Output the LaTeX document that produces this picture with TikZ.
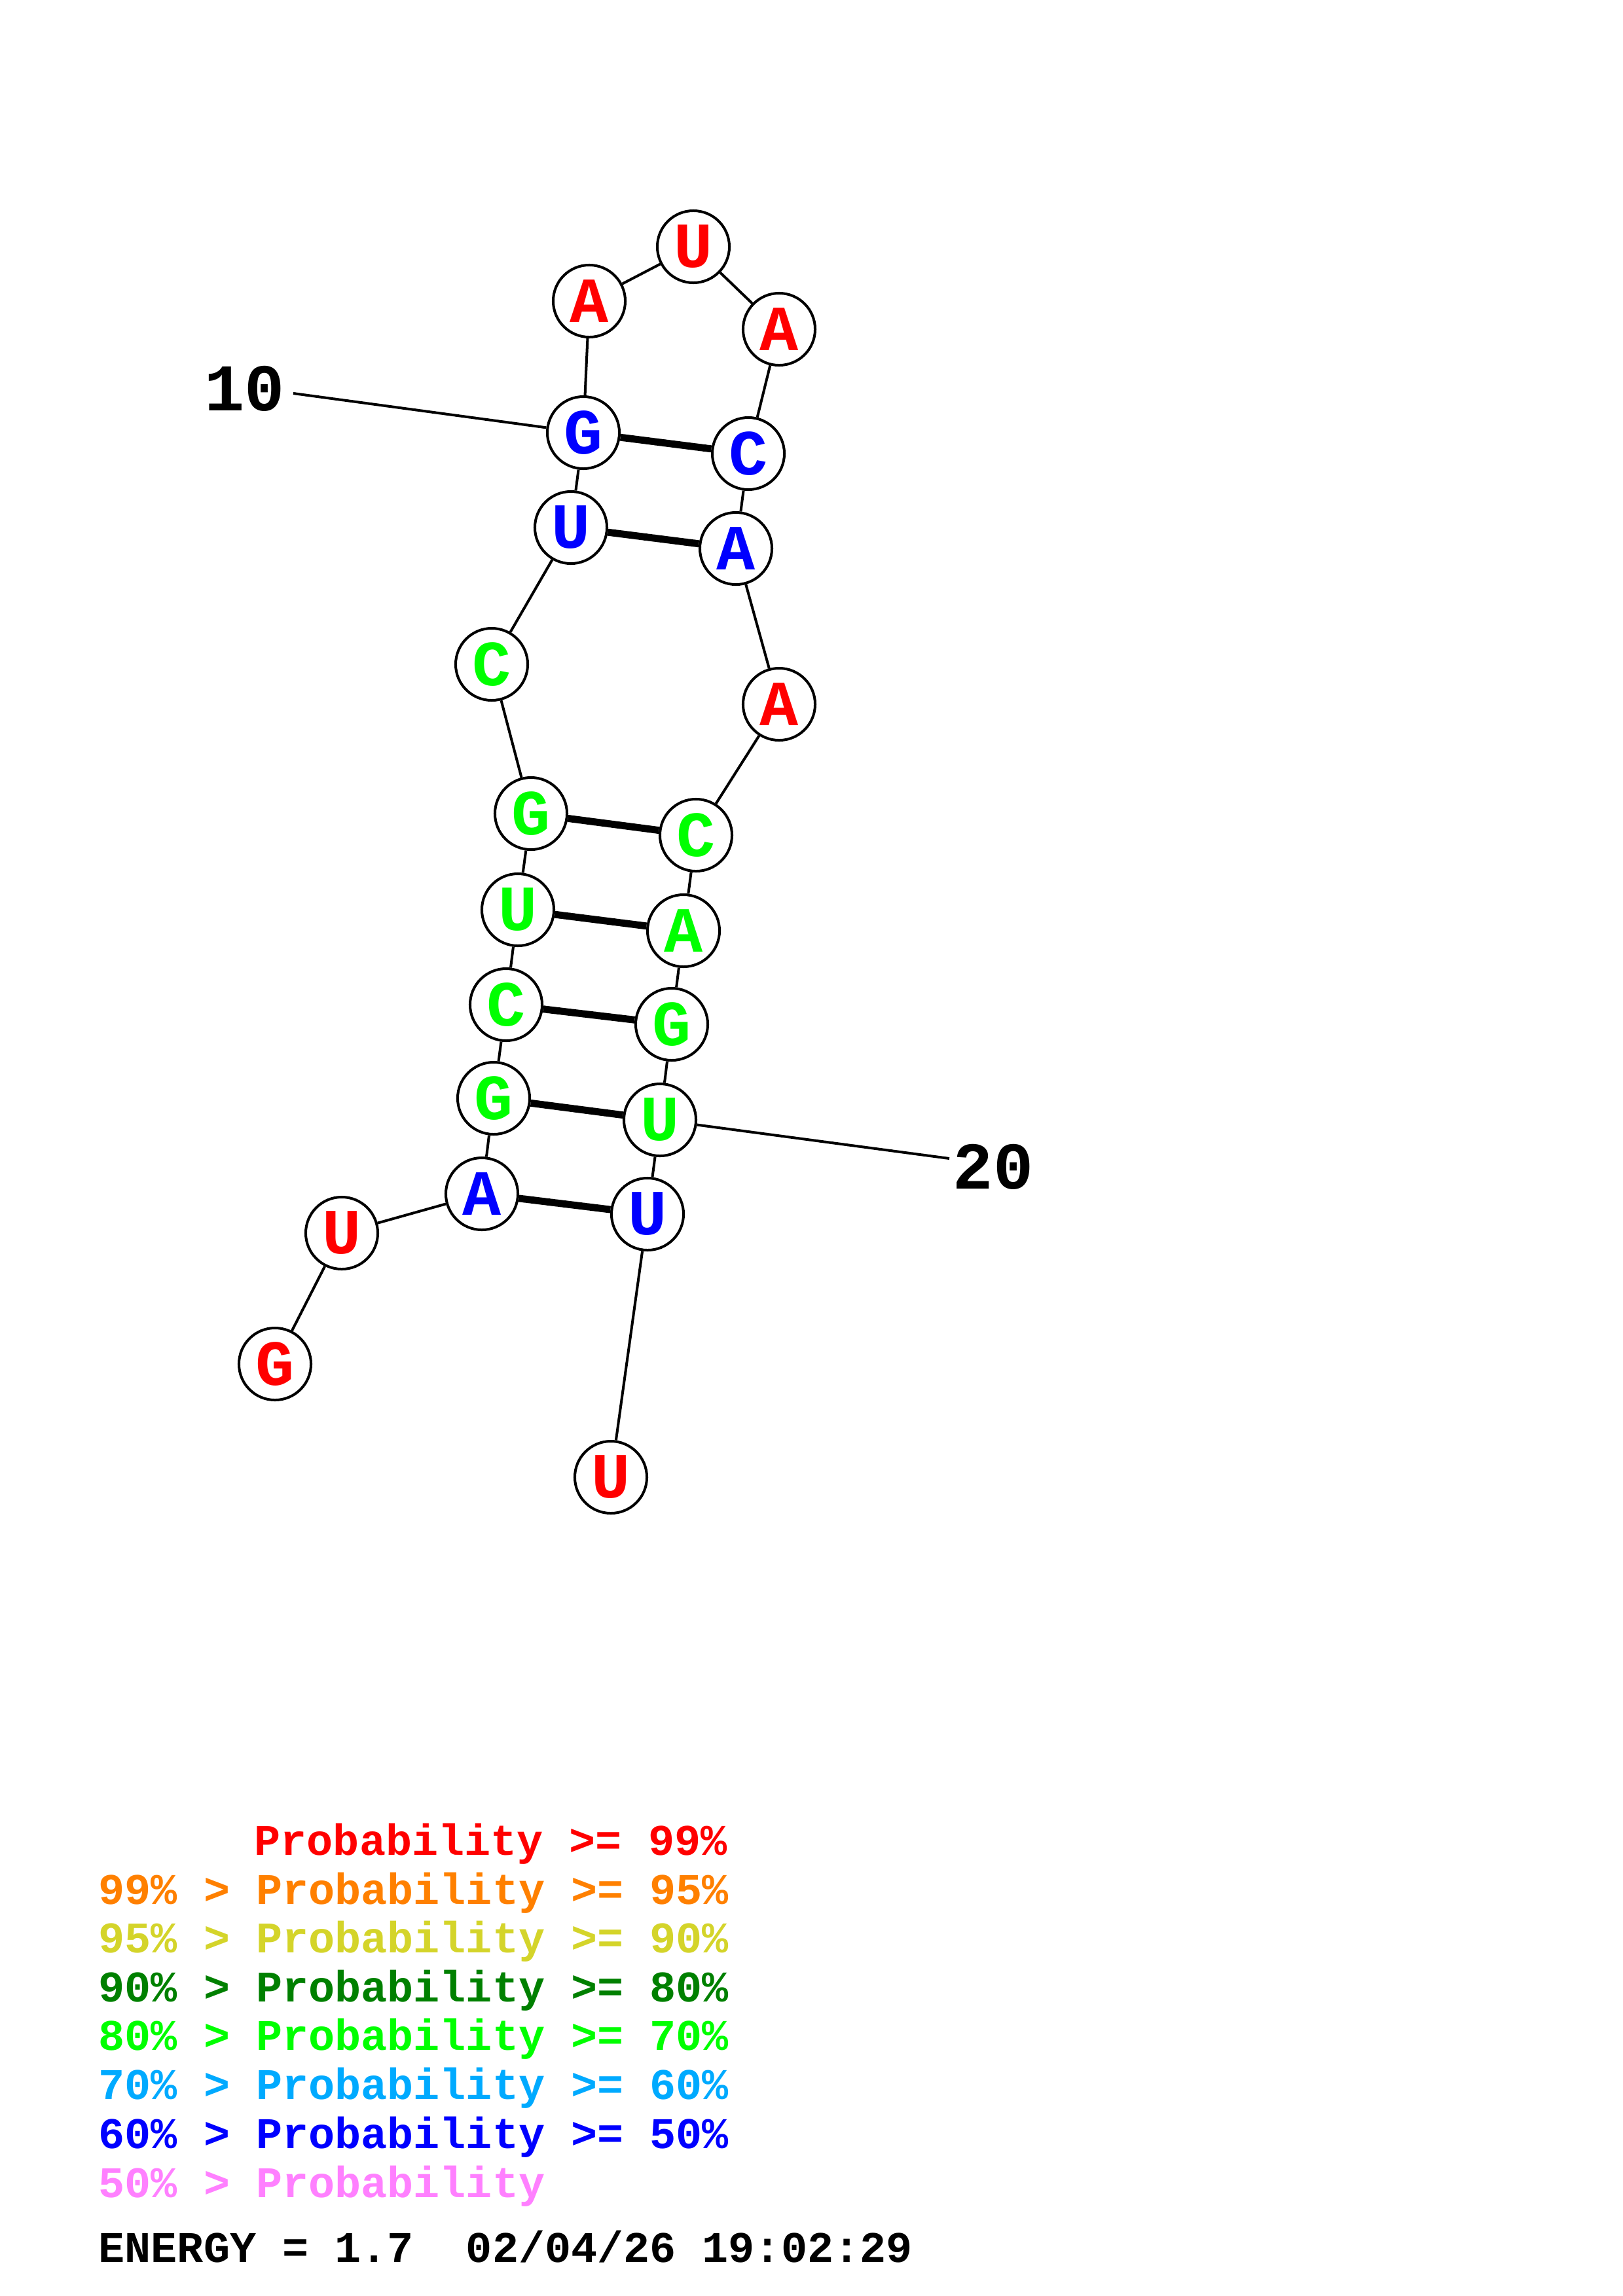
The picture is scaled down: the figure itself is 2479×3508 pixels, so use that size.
\documentclass[tikz,border=0pt]{standalone}
\usepackage{fontspec}
\newfontfamily\rnafont{Liberation Mono}
\definecolor{cred}{RGB}{255,0,0}
\definecolor{corange}{RGB}{255,128,0}
\definecolor{cyellow}{RGB}{212,212,42}
\definecolor{cdkgreen}{RGB}{0,128,0}
\definecolor{cgreen}{RGB}{0,255,0}
\definecolor{cltblue}{RGB}{0,170,255}
\definecolor{cblue}{RGB}{0,0,255}
\definecolor{cpink}{RGB}{255,128,255}
\tikzset{
  nt/.style={circle, draw=black, line width=1.14pt, fill=white, minimum size=1.1cm, inner sep=0pt,
             font=\rnafont\bfseries\fontsize{28}{28}\selectfont},
  bb/.style={line width=1.14pt},
  bp/.style={line width=3.1pt},
  numlbl/.style={inner sep=0pt, font=\rnafont\bfseries\fontsize{29}{29}\selectfont},
  leg/.style={anchor=base west, inner sep=0pt, font=\rnafont\bfseries\fontsize{19}{19}\selectfont},
}
\begin{document}
\frenchspacing
\begin{tikzpicture}[x=0.01cm, y=-0.01cm]
\path[use as bounding box, fill=white] (0,0) rectangle (2479,3508);
% nucleotides
\node[nt, text=cred]  (n1)  at (420,2084) {G};
\node[nt, text=cred]  (n2)  at (522,1884) {U};
\node[nt, text=cblue] (n3)  at (736,1824) {A};
\node[nt, text=cgreen] (n4) at (754,1678) {G};
\node[nt, text=cgreen] (n5) at (773,1535) {C};
\node[nt, text=cgreen] (n6) at (791,1390) {U};
\node[nt, text=cgreen] (n7) at (811,1243) {G};
\node[nt, text=cgreen] (n8) at (751,1015) {C};
\node[nt, text=cblue] (n9)  at (872,806) {U};
\node[nt, text=cblue] (n10) at (891,661) {G};
\node[nt, text=cred]  (n11) at (900,460) {A};
\node[nt, text=cred]  (n12) at (1059,377) {U};
\node[nt, text=cred]  (n13) at (1190,503) {A};
\node[nt, text=cblue] (n14) at (1143,693) {C};
\node[nt, text=cblue] (n15) at (1124,838) {A};
\node[nt, text=cred]  (n16) at (1190,1076) {A};
\node[nt, text=cgreen] (n17) at (1063,1276) {C};
\node[nt, text=cgreen] (n18) at (1044,1422) {A};
\node[nt, text=cgreen] (n19) at (1026,1565) {G};
\node[nt, text=cgreen] (n20) at (1008,1711) {U};
\node[nt, text=cblue] (n21) at (989,1855) {U};
\node[nt, text=cred]  (n22) at (933,2257) {U};
% backbone
\draw[bb] (n1)--(n2); \draw[bb] (n2)--(n3); \draw[bb] (n3)--(n4); \draw[bb] (n4)--(n5);
\draw[bb] (n5)--(n6); \draw[bb] (n6)--(n7); \draw[bb] (n7)--(n8); \draw[bb] (n8)--(n9);
\draw[bb] (n9)--(n10); \draw[bb] (n10)--(n11); \draw[bb] (n11)--(n12); \draw[bb] (n12)--(n13);
\draw[bb] (n13)--(n14); \draw[bb] (n14)--(n15); \draw[bb] (n15)--(n16); \draw[bb] (n16)--(n17);
\draw[bb] (n17)--(n18); \draw[bb] (n18)--(n19); \draw[bb] (n19)--(n20); \draw[bb] (n20)--(n21);
\draw[bb] (n21)--(n22);
% base pairs
\draw[bp] (n3)--(n21); \draw[bp] (n4)--(n20); \draw[bp] (n5)--(n19); \draw[bp] (n6)--(n18);
\draw[bp] (n7)--(n17); \draw[bp] (n9)--(n15); \draw[bp] (n10)--(n14);
% numbering
\node[numlbl] (l10) at (374,594) {10};
\coordinate (c10) at (448,601);
\draw[bb] (c10)--(n10);
\node[numlbl] (l20) at (1517,1783) {20};
\coordinate (c20) at (1450,1770);
\draw[bb] (n20)--(c20);
% legend
\node[leg, text=cred] (g1) at (388,2834) {Probability >= 99\%};
\node[leg, text=corange] (g2) at (150,2909) {99\% > Probability >= 95\%};
\node[leg, text=cyellow] (g3) at (150,2983) {95\% > Probability >= 90\%};
\node[leg, text=cdkgreen] (g4) at (150,3058) {90\% > Probability >= 80\%};
\node[leg, text=cgreen] (g5) at (150,3132) {80\% > Probability >= 70\%};
\node[leg, text=cltblue] (g6) at (150,3207) {70\% > Probability >= 60\%};
\node[leg, text=cblue] (g7) at (150,3282) {60\% > Probability >= 50\%};
\node[leg, text=cpink] (g8) at (150,3357) {50\% > Probability};
\node[leg, text=black] (en) at (150,3456) {ENERGY = 1.7\ \ 02/04/26 19:02:29};
\end{tikzpicture}
\end{document}
